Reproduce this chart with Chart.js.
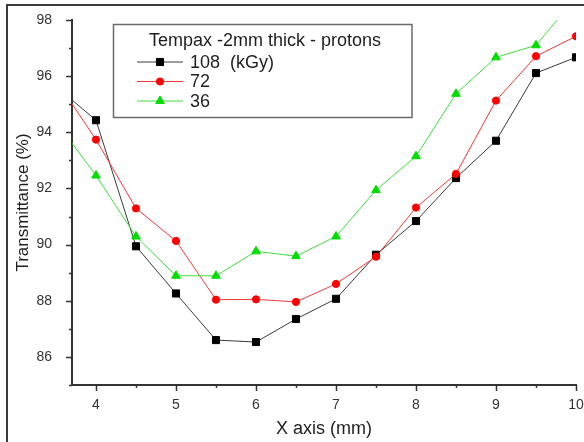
<!DOCTYPE html>
<html><head><meta charset="utf-8">
<script src="https://cdn.jsdelivr.net/npm/chart.js@4/dist/chart.umd.min.js"></script>
<style>
html,body{margin:0;padding:0;background:#fff;}
#wrap{position:relative;width:584px;height:442px;overflow:hidden;background:#fff;}
#frame{position:absolute;left:6px;top:4px;width:620px;height:480px;border-top:2px solid #3c3c3c;border-left:2px solid #3c3c3c;pointer-events:none;}
canvas{position:absolute;left:0;top:0;}
</style></head><body>
<div id="wrap"><canvas id="c" width="584" height="442"></canvas><div id="frame"></div></div>
<script>
// X positions (mm); first point lies just left of the visible axis range
const xValues = [3.5, 4, 4.5, 5, 5.5, 6, 6.5, 7, 7.5, 8, 8.5, 9, 9.5, 10];
const dose108 = [95.63, 94.43, 89.94, 88.26, 86.60, 86.53, 87.35, 88.07, 89.64, 90.84, 92.37, 93.70, 96.11, 96.67];
const dose72  = [95.86, 93.74, 91.29, 90.13, 88.04, 88.05, 87.96, 88.60, 89.57, 91.32, 92.52, 95.13, 96.71, 97.42];
const dose36  = [94.38, 92.46, 90.29, 88.89, 88.89, 89.76, 89.59, 90.29, 91.94, 93.15, 95.37, 96.67, 97.10, 98.80];
const seriesLabels = ['108  (kGy)', '72', '36'];
const legendTitle = 'Tempax -2mm thick - protons';
const xTitle = 'X axis (mm)';
const yTitle = 'Transmittance (%)';
const xMin = 3.7, xMax = 10, yMin = 85, yMax = 98;

const FONT = '"Liberation Sans", Arial, Helvetica, sans-serif';
const isWhole = v => Math.abs(v - Math.round(v)) < 1e-6;
const pts = arr => xValues.map((x, i) => ({x, y: arr[i]}));

const tickPlugin = {
  id: 'axisTicks',
  afterDraw(chart) {
    const {ctx, scales: {x, y}} = chart;
    ctx.save();
    ctx.strokeStyle = '#333';
    ctx.lineWidth = 1.5;
    ctx.beginPath();
    x.ticks.forEach(t => {
      const px = Math.round(x.getPixelForValue(t.value)) + 0.5;
      const len = isWhole(t.value) ? 6 : 3;
      ctx.moveTo(px, x.top); ctx.lineTo(px, x.top + len);
    });
    y.ticks.forEach(t => {
      const py = Math.round(y.getPixelForValue(t.value)) + 0.5;
      const len = (Math.round(t.value) % 2 === 0) ? 6 : 3;
      ctx.moveTo(y.right, py); ctx.lineTo(y.right - len, py);
    });
    ctx.stroke();
    ctx.restore();
  }
};

const legendPlugin = {
  id: 'boxLegend',
  afterDraw(chart) {
    const {ctx} = chart;
    ctx.save();
    ctx.strokeStyle = '#6a6a6a';
    ctx.lineWidth = 1.5;
    ctx.strokeRect(113.5, 24.5, 298.5, 93);
    ctx.fillStyle = '#1e1e1e';
    ctx.font = '18px ' + FONT;
    ctx.textBaseline = 'middle';
    ctx.textAlign = 'left';
    ctx.fillText(legendTitle, 149, 41);
    const rowY = [62, 81.5, 101];
    chart.data.datasets.forEach((ds, i) => {
      const yy = rowY[i];
      ctx.strokeStyle = ds.borderColor;
      ctx.lineWidth = ds.borderWidth;
      ctx.beginPath(); ctx.moveTo(137, yy); ctx.lineTo(183, yy); ctx.stroke();
      ctx.fillStyle = ds.pointBackgroundColor;
      ctx.strokeStyle = ds.pointBorderColor;
      ctx.lineWidth = 1;
      Chart.helpers.drawPoint(ctx, {pointStyle: ds.pointStyle, radius: ds.pointRadius, borderWidth: 1, rotation: 0}, 160, yy);
      ctx.fillStyle = '#1e1e1e';
      ctx.fillText(ds.label, 190, yy + 1);
    });
    ctx.restore();
  }
};

new Chart(document.getElementById('c'), {
  type: 'line',
  data: {
    datasets: [
      {label: seriesLabels[0], data: pts(dose108), borderColor: '#3a3a3a', borderWidth: 1,
       pointStyle: 'rect', pointRadius: 5, pointBackgroundColor: '#000', pointBorderColor: '#000', pointBorderWidth: 1, order: 3},
      {label: seriesLabels[1], data: pts(dose72), borderColor: '#f03a3a', borderWidth: 1,
       pointStyle: 'circle', pointRadius: 3.6, pointBackgroundColor: '#ff0000', pointBorderColor: '#ff0000', pointBorderWidth: 1, order: 2},
      {label: seriesLabels[2], data: pts(dose36), borderColor: '#3ede3e', borderWidth: 1,
       pointStyle: 'triangle', pointRadius: 5, pointBackgroundColor: '#00dd00', pointBorderColor: '#00dd00', pointBorderWidth: 1, order: 1}
    ]
  },
  options: {
    responsive: false,
    animation: false,
    events: [],
    layout: {padding: {top: 20, right: 8, left: 0, bottom: 0}},
    plugins: {legend: {display: false}, tooltip: {enabled: false}},
    elements: {line: {tension: 0}},
    scales: {
      x: {
        type: 'linear', min: xMin, max: xMax,
        afterFit(s) { s.height = 57; s.paddingRight = 0; s.paddingLeft = 0; },
        border: {display: true, color: '#333', width: 2},
        grid: {display: false},
        ticks: {stepSize: 0.5, includeBounds: false, autoSkip: false, maxRotation: 0, padding: 4,
                color: '#333', font: {family: FONT, size: 14},
                callback: v => isWhole(v) ? String(Math.round(v)) : ''},
        title: {display: true, text: xTitle, color: '#1e1e1e', font: {family: FONT, size: 18}, padding: {top: 0, bottom: 2}}
      },
      y: {
        type: 'linear', min: yMin, max: yMax,
        afterFit(s) { s.width = 72; s.paddingTop = 0; s.paddingBottom = 0; },
        border: {display: true, color: '#333', width: 2},
        grid: {display: false},
        ticks: {stepSize: 1, autoSkip: false, padding: 12, color: '#333', font: {family: FONT, size: 14},
                callback: v => (Math.round(v) % 2 === 0) ? String(Math.round(v)) : ''},
        title: {display: true, text: yTitle, color: '#1e1e1e', font: {family: FONT, size: 17}, padding: {top: 13, bottom: 0}}
      }
    }
  },
  plugins: [tickPlugin, legendPlugin]
});
</script>
</body></html>
